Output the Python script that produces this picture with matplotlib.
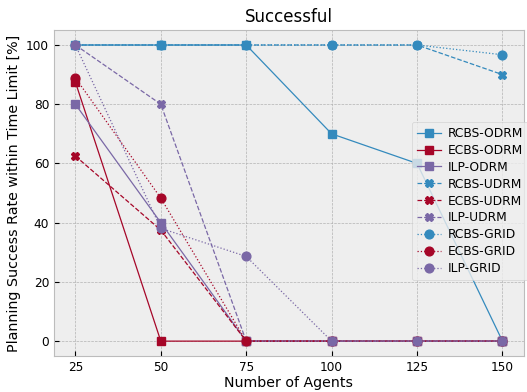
import matplotlib
matplotlib.use("Agg")
import matplotlib.pyplot as plt

plt.style.use("bmh")

agents = [25, 50, 75, 100, 125, 150]

rcbs_odrm = [100, 100, 100, 70, 60, 0]
ecbs_odrm = [87.5, 0, 0, 0, 0, 0]
ilp_odrm = [80, 40, 0, 0, 0, 0]
rcbs_udrm = [100, 100, 100, 100, 100, 90]
ecbs_udrm = [62.5, 37.5, 0, 0, 0, 0]
ilp_udrm = [100, 80, 0, 0, 0, 0]
rcbs_grid = [100, 100, 100, 100, 100, 96.7]
ecbs_grid = [88.9, 48.3, 0, 0, 0, 0]
ilp_grid = [100, 38.1, 28.6, 0, 0, 0]

c_r, c_e, c_i = "#348ABD", "#A60628", "#7A68A6"

fig, ax = plt.subplots(figsize=(5.27, 3.92), dpi=100)
fig.subplots_adjust(left=0.1025, right=0.994, top=0.923, bottom=0.092)

series = [
    ("RCBS-ODRM", rcbs_odrm, c_r, "-", "s"),
    ("ECBS-ODRM", ecbs_odrm, c_e, "-", "s"),
    ("ILP-ODRM", ilp_odrm, c_i, "-", "s"),
    ("RCBS-UDRM", rcbs_udrm, c_r, "--", "X"),
    ("ECBS-UDRM", ecbs_udrm, c_e, "--", "X"),
    ("ILP-UDRM", ilp_udrm, c_i, "--", "X"),
    ("RCBS-GRID", rcbs_grid, c_r, ":", "o"),
    ("ECBS-GRID", ecbs_grid, c_e, ":", "o"),
    ("ILP-GRID", ilp_grid, c_i, ":", "o"),
]
for label, vals, col, ls, mk in series:
    ax.plot(agents, vals, color=col, linestyle=ls, marker=mk, markersize=6.3,
            linewidth=0.9, label=label)

ax.set_xticks(agents)
ax.set_xlabel("Number of Agents", fontsize=10.2, labelpad=1.5)
ax.set_ylabel("Planning Success Rate within Time Limit [%]", fontsize=10.3)
ax.set_title("Successful", fontsize=12)
ax.tick_params(labelsize=8.7)
ax.legend(loc="upper left", bbox_to_anchor=(412 / 527, 1 - 122 / 392),
          bbox_transform=fig.transFigure, borderaxespad=0,
          fontsize=8.8, labelspacing=0.32, handletextpad=0.5, framealpha=0.8)

fig.savefig("out.png", dpi=100)
